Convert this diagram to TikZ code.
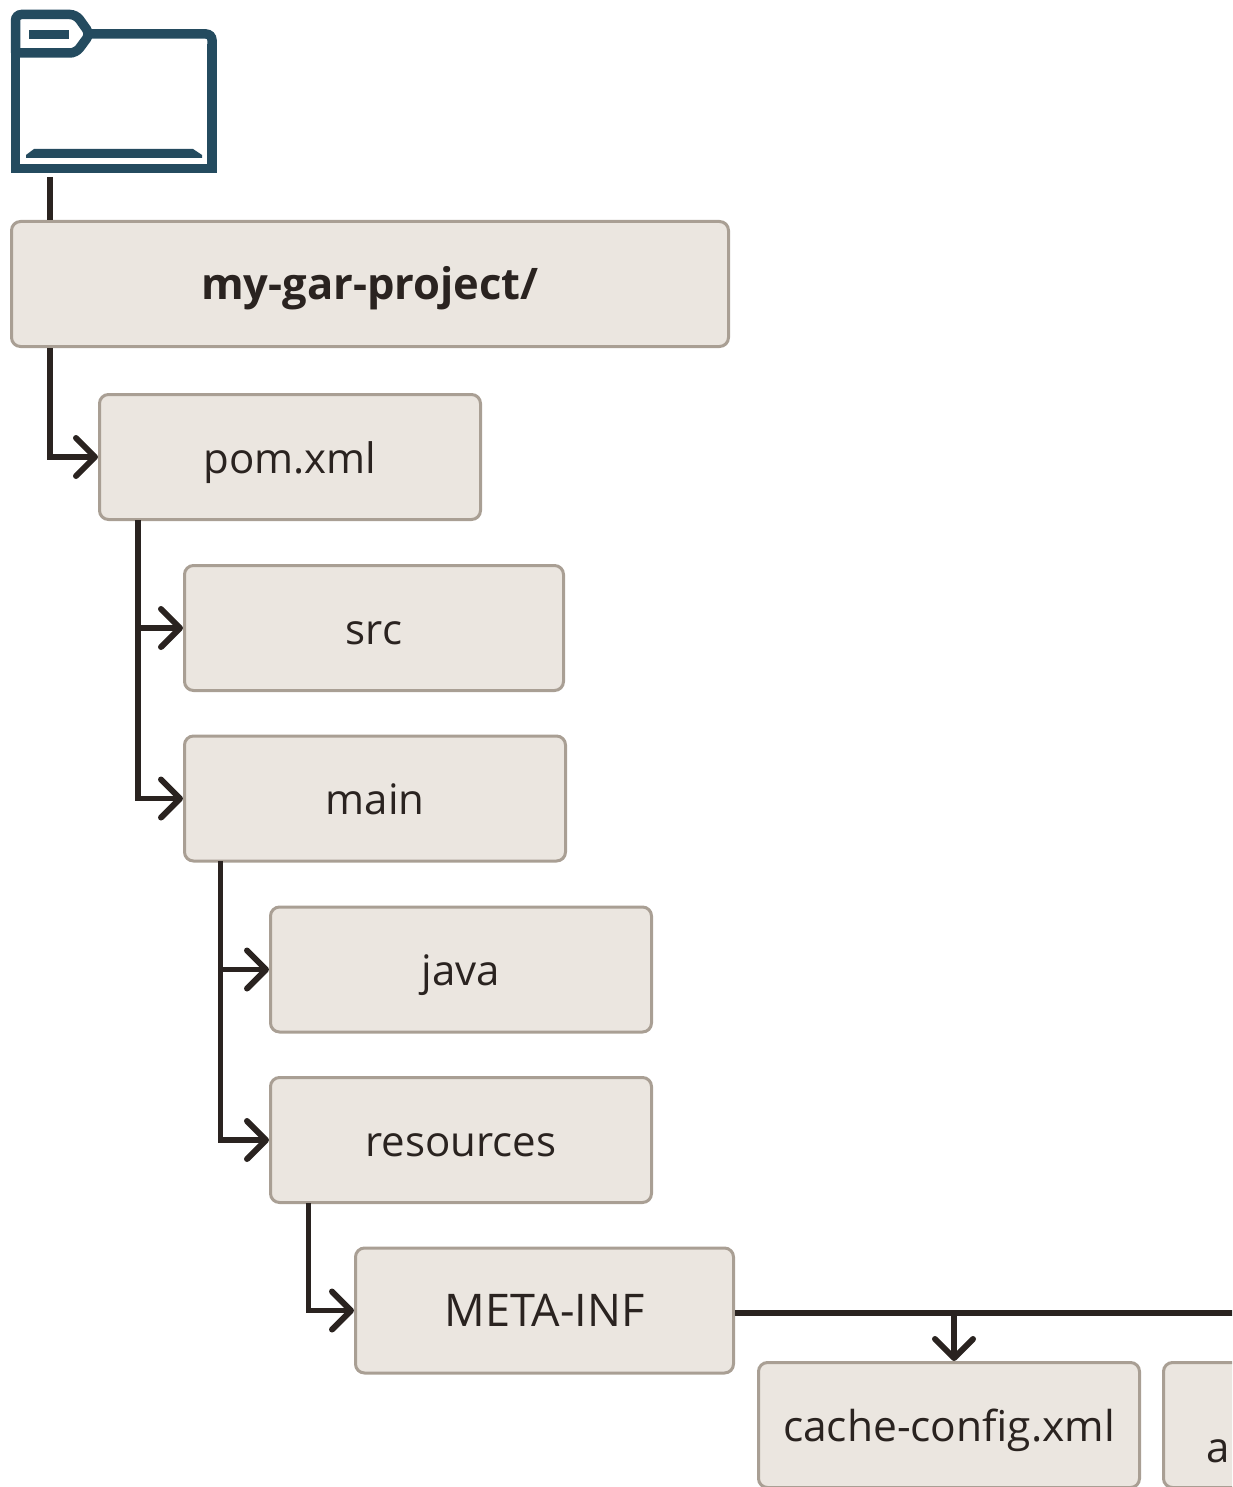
\documentclass[tikz,border=0pt]{standalone}
\usepackage{fontspec}
\setmainfont{Open Sans}
\usetikzlibrary{arrows.meta}
\definecolor{folderblue}{HTML}{244B5F}
\definecolor{linedark}{HTML}{2A2320}
\definecolor{boxfill}{HTML}{EBE6E0}
\definecolor{boxedge}{HTML}{A99F94}
\tikzset{x=1pt, y=-1pt, % One unit is one pixel of the layout
every node/.style={font=\fontsize{42}{48}\selectfont, text=linedark, text height=43pt, text depth=11pt},
filebox/.style=
    { % Sets the properties for each box
        draw=boxedge,
        fill=boxfill,
        line width=3pt,
        rounded corners=9pt,
        minimum height=125pt,
        minimum width=381pt
    },
    link/.style={ % Sets the properties for each connector
        draw=linedark,
        line width=5.5pt,
        -{Straight Barb[length=19pt,width=38pt,line width=6pt,round]}
    },
    folderline/.style={
        draw=folderblue,
        line width=9.5pt
    }
}
\begin{document}
\begin{tikzpicture}
    \useasboundingbox (0,0) rectangle (1232,1487);
    \clip (0,0) rectangle (1232,1487);
    % folder icon
    \draw[folderline, rounded corners=6pt] (15.5,53) -- (15.5,14.5) -- (76,14.5) -- (90,34) -- (76,53) -- (15.5,53);
    \draw[folderline] (15.5,53) -- (15.5,168.7) -- (212,168.7) -- (212,44);
    \draw[folderline, rounded corners=6pt] (212,50) -- (212,34) -- (90,34);
    \fill[folderblue] (29,30) rectangle (69,39);
    \fill[folderblue] (26,158) -- (26,155) -- (34,149) -- (193,149) -- (202,155) -- (202,158) -- cycle;
    \coordinate (folderfoot) at (50,177);

    \node[filebox, minimum width=717pt] (root) at (370,284) {\fontsize{43.5}{48}\selectfont\textbf{my-gar-project/}};
    \node[filebox] (pom) at (290,457) {pom.xml};
    \node[filebox, minimum width=379pt] (src) at (374,628) {src};
    \node[filebox] (main) at (375,798.5) {main};
    \node[filebox] (java) at (461,969.5) {java};
    \node[filebox] (resources) at (461,1140) {resources};
    \node[filebox, minimum width=378pt] (metainf) at (544.5,1310.5) {\fontsize{45}{48}\selectfont META-INF};
    \node[filebox] (cache) at (949,1425) {\fontsize{42.5}{48}\selectfont cache-config.xml};
    \node[filebox] (app) at (1354,1425) {};
    \node (applabel) at (1218,1446) {a};

    \coordinate (metaout) at (metainf.east |- 0,1313);
    \coordinate (rightedge) at (1240,1313);
    \coordinate (cachedrop) at (954,1313);
    \coordinate (cachein) at (954,1361);

    \draw[draw=linedark, line width=5.5pt] (folderfoot) -- (root.north -| folderfoot);
    \draw[link] (root.south -| folderfoot) |- (pom.west);
    \draw[link] (138,520) |- (src.west);
    \draw[link] (138,520) |- (main.west);
    \draw[link] (220.5,861) |- (java.west);
    \draw[link] (220.5,861) |- (resources.west);
    \draw[link] (308.5,1203) |- (metainf.west);
    \draw[draw=linedark, line width=5.5pt] (metaout) -- (rightedge);
    \draw[link] (cachedrop) -- (cachein);
\end{tikzpicture}
\end{document}
